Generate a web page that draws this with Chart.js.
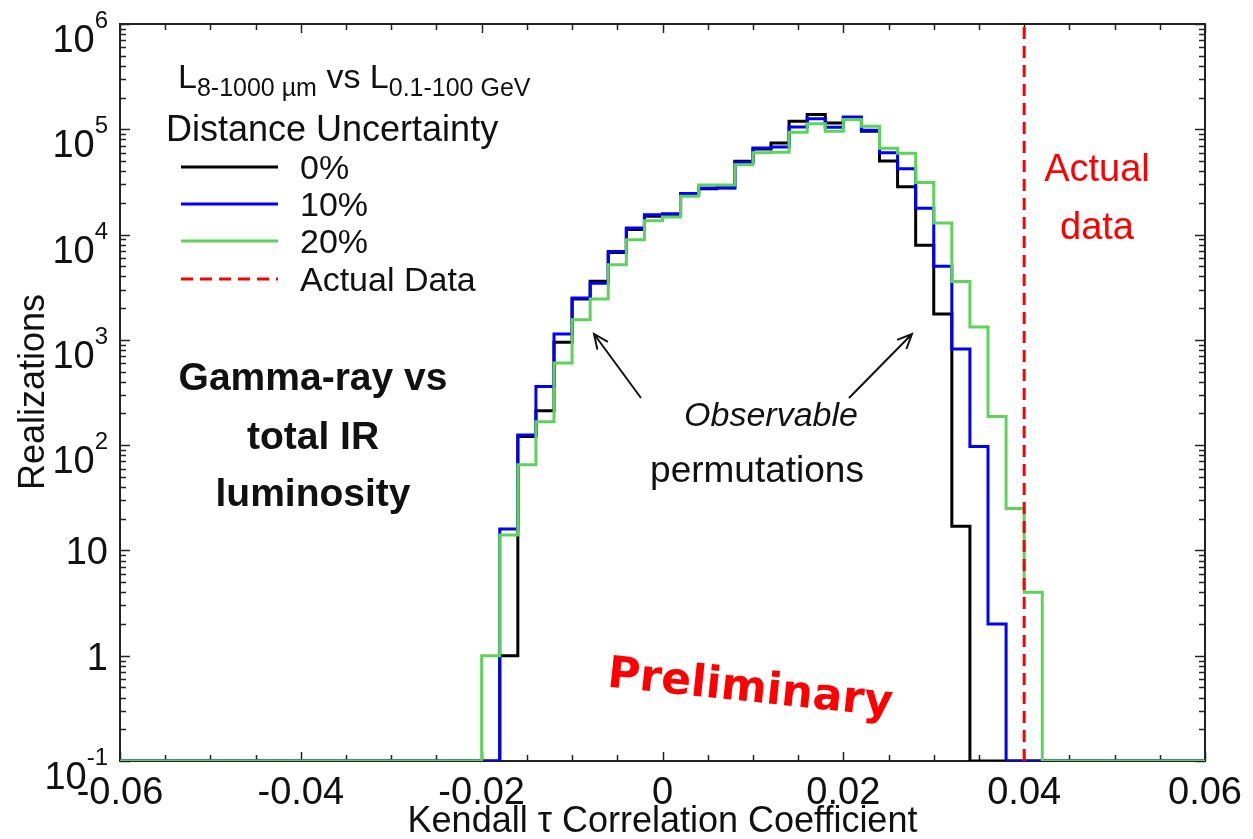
<!DOCTYPE html>
<html>
<head>
<meta charset="utf-8">
<script src="https://cdn.jsdelivr.net/npm/chart.js@4.4.1/dist/chart.umd.min.js"></script>
<style>
  body { margin: 0; background: #fff; }
</style>
</head>
<body>
<canvas id="canvas" width="1253" height="839"></canvas>
<script>
/* Histogram bins: left edge of each bin in Kendall tau, all bins 0.002 wide */
const binEdges = [
  -0.020, -0.018, -0.016, -0.014, -0.012, -0.010, -0.008, -0.006, -0.004, -0.002,
  0.000, 0.002, 0.004, 0.006, 0.008, 0.010, 0.012, 0.014, 0.016, 0.018,
  0.020, 0.022, 0.024, 0.026, 0.028, 0.030, 0.032, 0.034, 0.036, 0.038, 0.040
];
const binWidth = 0.002;

/* Realizations per bin for each distance uncertainty */
const counts0 = [
  0, 1, 121, 212, 950, 2450, 3600, 6750, 11150, 14900,
  15500, 24000, 27200, 27800, 49700, 65000, 74100, 119000, 138000, 115000,
  127000, 95800, 50000, 28500, 7900, 1760, 17, 0, 0, 0, 0
];
const counts10 = [
  0, 16, 125, 360, 1135, 2500, 3450, 6900, 11560, 15450,
  15800, 24500, 27700, 27700, 48500, 66500, 68000, 105000, 125600, 104600,
  131000, 98000, 59700, 42200, 17800, 4990, 818, 97, 2, 0, 0
];
const counts20 = [
  1, 14, 65, 167, 603, 1550, 2440, 5180, 8940, 13550,
  14700, 23100, 29500, 29500, 46100, 59700, 60400, 93800, 113000, 95800,
  123600, 107000, 66000, 59300, 31300, 12900, 3590, 1325, 187, 25, 4
];

/* Observed tau for the real sample */
const actualTau = 0.04;

/* Axis ranges and labels */
const xMin = -0.06, xMax = 0.06;
const yMin = 0.1, yMax = 1e6;
const xTickValues = [-0.06, -0.04, -0.02, 0, 0.02, 0.04, 0.06];
const xTickLabels = ["-0.06", "-0.04", "-0.02", "0", "0.02", "0.04", "0.06"];
const yTickExponents = [-1, 0, 1, 2, 3, 4, 5, 6];

const sans = '"Liberation Sans", Arial, Helvetica, sans-serif';

// turn bin counts into step points, empty bins sit on the bottom axis
function stepPoints(counts) {
  const pts = [{ x: xMin, y: yMin }];
  binEdges.forEach((edge, i) => {
    pts.push({ x: edge, y: counts[i] > 0 ? counts[i] : yMin });
  });
  pts.push({ x: binEdges[binEdges.length - 1] + binWidth, y: yMin });
  pts.push({ x: xMax, y: yMin });
  return pts;
}

function histSet(label, counts, color) {
  return {
    label: label,
    data: stepPoints(counts),
    borderColor: color,
    borderWidth: 3,
    stepped: true,
    pointRadius: 0,
    fill: false,
  };
}

// open arrow head
function arrow(ctx, x1, y1, x2, y2) {
  const a = Math.atan2(y2 - y1, x2 - x1);
  const h = 16;
  ctx.beginPath();
  ctx.moveTo(x1, y1);
  ctx.lineTo(x2, y2);
  ctx.moveTo(x2 - h * Math.cos(a - 0.42), y2 - h * Math.sin(a - 0.42));
  ctx.lineTo(x2, y2);
  ctx.lineTo(x2 - h * Math.cos(a + 0.42), y2 - h * Math.sin(a + 0.42));
  ctx.stroke();
}

/* Frame with inward ticks, drawn under the histograms */
const framePlugin = {
  id: "framePlugin",
  beforeDatasetsDraw(chart) {
    const ctx = chart.ctx;
    const area = chart.chartArea;
    const xs = chart.scales.x;
    const ys = chart.scales.y;
    ctx.save();
    ctx.strokeStyle = "#222";
    ctx.lineWidth = 2;
    ctx.strokeRect(area.left, area.top, area.right - area.left, area.bottom - area.top);

    ctx.lineWidth = 1.5;
    ctx.beginPath();
    // x ticks every 0.005, longer on the labelled ones
    for (let i = 0; i <= 24; i++) {
      const v = xMin + i * 0.005;
      const px = Math.round(xs.getPixelForValue(v)) + 0.5;
      const len = i % 4 === 0 ? 9 : 6;
      ctx.moveTo(px, area.bottom);
      ctx.lineTo(px, area.bottom - len);
      ctx.moveTo(px, area.top);
      ctx.lineTo(px, area.top + len);
    }
    // log ticks on both sides
    yTickExponents.forEach((e) => {
      for (let m = 1; m <= 9; m++) {
        const v = m * Math.pow(10, e);
        if (v > yMax) break;
        const py = Math.round(ys.getPixelForValue(v)) + 0.5;
        const len = m === 1 ? 10 : 6;
        ctx.moveTo(area.left, py);
        ctx.lineTo(area.left + len, py);
        ctx.moveTo(area.right, py);
        ctx.lineTo(area.right - len, py);
      }
    });
    ctx.stroke();

    // tick labels
    ctx.fillStyle = "#111";
    ctx.font = "38px " + sans;
    ctx.textAlign = "center";
    ctx.textBaseline = "alphabetic";
    xTickValues.forEach((v, i) => {
      ctx.fillText(xTickLabels[i], xs.getPixelForValue(v), area.bottom + 43);
    });

    yTickExponents.forEach((e) => {
      const py = ys.getPixelForValue(Math.pow(10, e));
      const right = area.left - 12;
      ctx.textAlign = "right";
      if (e === 0 || e === 1) {
        ctx.font = "38px " + sans;
        ctx.fillText(e === 0 ? "1" : "10", right, py + 14);
      } else {
        ctx.font = "24px " + sans;
        const sup = String(e);
        const supW = ctx.measureText(sup).width;
        ctx.fillText(sup, right, py + 4);
        ctx.font = "38px " + sans;
        ctx.fillText("10", right - supW, py + 28);
      }
    });

    // axis titles
    ctx.textAlign = "center";
    ctx.font = "36px " + sans;
    ctx.fillText("Kendall \u03c4 Correlation Coefficient",
      (area.left + area.right) / 2, 832);
    ctx.save();
    ctx.translate(44, 392);
    ctx.rotate(-Math.PI / 2);
    ctx.fillText("Realizations", 0, 0);
    ctx.restore();
    ctx.restore();
  },

  /* Legend, notes and arrows on top of the data */
  afterDatasetsDraw(chart) {
    const ctx = chart.ctx;
    ctx.save();
    ctx.fillStyle = "#111";
    ctx.textBaseline = "alphabetic";
    ctx.textAlign = "left";

    // L_8-1000um vs L_0.1-100GeV
    let x = 178;
    const base = 88;
    const parts = [
      ["L", 34, 0], ["8-1000 \u00b5m", 25, 8], [" vs ", 34, 0],
      ["L", 34, 0], ["0.1-100 GeV", 25, 8]
    ];
    parts.forEach((p) => {
      ctx.font = p[1] + "px " + sans;
      ctx.fillText(p[0], x, base + p[2]);
      x += ctx.measureText(p[0]).width;
    });

    ctx.font = "36px " + sans;
    ctx.fillText("Distance Uncertainty", 166, 141);

    const legend = [
      ["0%", "#000", 167, []],
      ["10%", "#0000ff", 204, []],
      ["20%", "#5dd35a", 241, []],
      ["Actual Data", "#ff0000", 279, [12, 7]]
    ];
    legend.forEach((l) => {
      ctx.strokeStyle = l[1];
      ctx.lineWidth = 3;
      ctx.setLineDash(l[3]);
      ctx.beginPath();
      ctx.moveTo(181, l[2]);
      ctx.lineTo(278, l[2]);
      ctx.stroke();
      ctx.setLineDash([]);
      ctx.fillStyle = "#111";
      ctx.font = "34px " + sans;
      ctx.fillText(l[0], 300, l[2] + 12);
    });

    // bold note on the left
    ctx.textAlign = "center";
    ctx.font = "bold 39px " + sans;
    ctx.fillText("Gamma-ray vs", 313, 390);
    ctx.fillText("total IR", 313, 449);
    ctx.fillText("luminosity", 313, 506);

    // arrows to the observable tails
    ctx.strokeStyle = "#111";
    ctx.lineWidth = 2;
    arrow(ctx, 641, 398, 594, 334);
    arrow(ctx, 849, 398, 912, 334);
    ctx.font = "italic 34px " + sans;
    ctx.fillText("Observable", 771, 426);
    ctx.font = "37px " + sans;
    ctx.fillText("permutations", 757, 482);

    // actual data note
    ctx.fillStyle = "#ff0000";
    ctx.font = "38px " + sans;
    ctx.fillText("Actual", 1097, 181);
    ctx.fillText("data", 1097, 239);

    // preliminary stamp
    ctx.save();
    ctx.translate(750, 690);
    ctx.rotate(6 * Math.PI / 180);
    ctx.font = 'bold 44px "DejaVu Sans", sans-serif';
    ctx.textBaseline = "middle";
    ctx.fillText("Preliminary", 0, 0);
    ctx.restore();
    ctx.restore();
  }
};

const ctx = document.getElementById("canvas").getContext("2d");
window.myChart = new Chart(ctx, {
  type: "line",
  data: {
    datasets: [
      {
        label: "Actual Data",
        data: [{ x: actualTau, y: yMin }, { x: actualTau, y: yMax }],
        borderColor: "#ff0000",
        borderWidth: 3,
        borderDash: [12, 7],
        pointRadius: 0,
        fill: false,
      },
      histSet("20%", counts20, "#5dd35a"),
      histSet("10%", counts10, "#0000ff"),
      histSet("0%", counts0, "#000000"),
    ],
  },
  options: {
    responsive: false,
    animation: false,
    devicePixelRatio: 1,
    layout: { padding: { left: 120, right: 48, top: 24, bottom: 78 } },
    plugins: {
      legend: { display: false },
      tooltip: { enabled: false },
    },
    scales: {
      x: { type: "linear", min: xMin, max: xMax, display: false },
      y: { type: "logarithmic", min: yMin, max: yMax, display: false },
    },
  },
  plugins: [framePlugin],
});
</script>
</body>
</html>
